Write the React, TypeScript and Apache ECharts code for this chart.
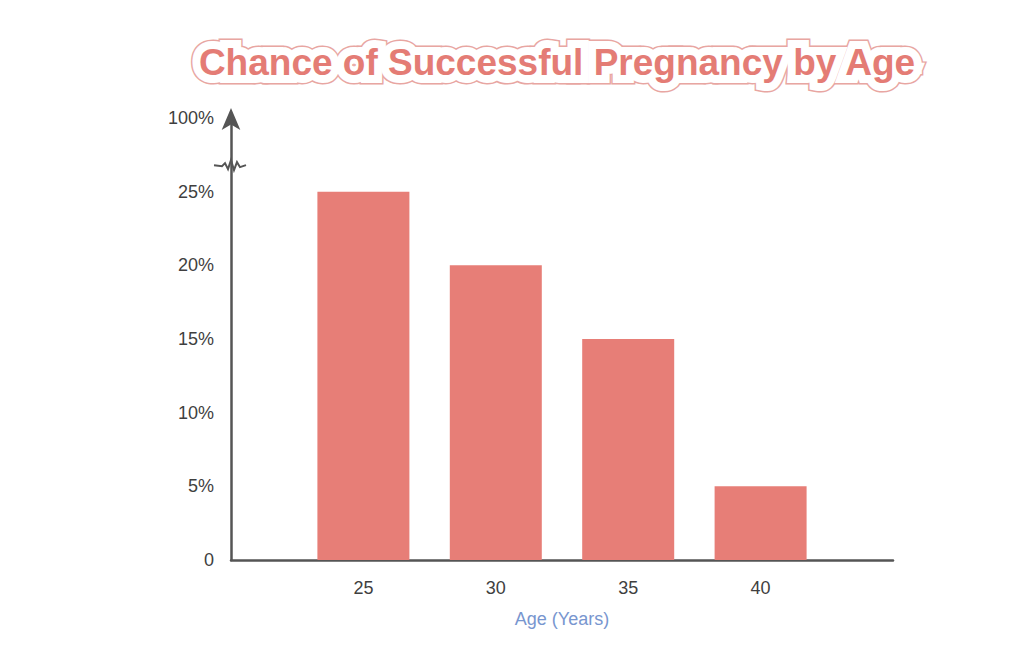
import React, { useEffect, useRef } from "react";
import * as echarts from "echarts";

const ages = [25, 30, 35, 40];
const successRates = [25, 20, 15, 5];
const yTickValues = [0, 5, 10, 15, 20, 25, 30];
const yTopLabel = "100%";
const titleText = "Chance of Successful Pregnancy by Age";
const xAxisName = "Age (Years)";

export default function App() {
  const ref = useRef<HTMLDivElement>(null);
  useEffect(() => {
    if (!ref.current) return;
    const chart = echarts.init(ref.current, undefined, { renderer: "svg" });
    const font = "'Liberation Sans', Arial, sans-serif";
    chart.setOption({
      animation: false,
      backgroundColor: "#ffffff",
      grid: { left: 231, right: 131, top: 118, bottom: 98, containLabel: false },
      xAxis: {
        type: "value",
        min: 20,
        max: 45,
        interval: 5,
        splitLine: { show: false },
        axisTick: { show: false },
        axisLine: { show: true, lineStyle: { color: "#555555", width: 2.5 } },
        axisLabel: {
          color: "#3f3f3f",
          fontSize: 18,
          fontFamily: font,
          margin: 19,
          formatter: (v: number) => (ages.includes(v) ? String(v) : ""),
        },
        name: xAxisName,
        nameLocation: "middle",
        nameGap: 50,
        nameTextStyle: { color: "#7896cf", fontSize: 18, fontFamily: font },
      },
      yAxis: {
        type: "value",
        min: 0,
        max: 30,
        interval: 5,
        splitLine: { show: false },
        axisTick: { show: false },
        axisLine: {
          show: true,
          symbol: ["none", "arrow"],
          symbolSize: [14, 22],
          symbolOffset: [0, 10],
          lineStyle: { color: "#555555", width: 2.5 },
        },
        axisLabel: {
          color: "#3f3f3f",
          fontSize: 18,
          fontFamily: font,
          margin: 17,
          formatter: (v: number) =>
            v === 30 ? yTopLabel : v === 0 ? "0" : yTickValues.includes(v) ? v + "%" : "",
        },
      },
      series: [
        {
          type: "bar",
          data: ages.map((a, i) => [a, successRates[i]]),
          barWidth: 92,
          itemStyle: { color: "#e77e77" },
        },
      ],
    });

    const axisPt = chart.convertToPixel({ gridIndex: 0 }, [20, 26.8]) as number[];
    const cx = axisPt[0];
    const cy = axisPt[1];
    const zig = [
      [-17, 0], [-9, 1], [-6, -2], [-3, 4], [0, -5], [3, 5], [6, -3], [9, 2], [15, 0],
    ];
    chart.setOption({
      graphic: [
        {
          type: "polyline",
          shape: { points: zig.map((p) => [cx + p[0], cy + p[1]]) },
          style: { stroke: "#555555", lineWidth: 2, fill: "none", lineJoin: "miter" },
          z: 101,
        },
        {
          type: "text",
          x: 557,
          y: 62,
          style: {
            text: titleText,
            fontSize: 37,
            fontWeight: "bold",
            fontFamily: font,
            fill: "#e8a6a2",
            stroke: "#e8a6a2",
            lineWidth: 19,
            lineJoin: "round",
            align: "center",
            verticalAlign: "middle",
          },
          z: 100,
        },
        {
          type: "text",
          x: 557,
          y: 62,
          style: {
            text: titleText,
            fontSize: 37,
            fontWeight: "bold",
            fontFamily: font,
            fill: "#ffffff",
            stroke: "#ffffff",
            lineWidth: 16,
            lineJoin: "round",
            align: "center",
            verticalAlign: "middle",
          },
          z: 101,
        },
        {
          type: "text",
          x: 557,
          y: 62,
          style: {
            text: titleText,
            fontSize: 37,
            fontWeight: "bold",
            fontFamily: font,
            fill: "#e47c75",
            align: "center",
            verticalAlign: "middle",
          },
          z: 102,
        },
      ],
    });
    return () => chart.dispose();
  }, []);
  return <div ref={ref} style={{ width: 1024, height: 658, position: "absolute", left: 0, top: 0 }} />;
}
